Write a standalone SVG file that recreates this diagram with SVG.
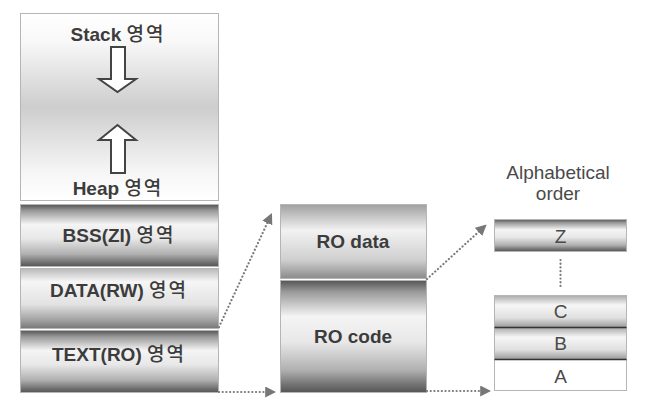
<svg xmlns="http://www.w3.org/2000/svg" width="657" height="412" viewBox="0 0 657 412">
<defs>
<linearGradient id="gStack" x1="0" y1="0" x2="0" y2="1">
<stop offset="0" stop-color="#ffffff"/><stop offset="0.15" stop-color="#f8f8f8"/><stop offset="0.5" stop-color="#cdcdcd"/><stop offset="0.85" stop-color="#f6f6f6"/><stop offset="1" stop-color="#ffffff"/>
</linearGradient>
<linearGradient id="gMetal" x1="0" y1="0" x2="0" y2="1">
<stop offset="0" stop-color="#555"/><stop offset="0.1" stop-color="#999"/><stop offset="0.32" stop-color="#f4f4f4"/><stop offset="0.55" stop-color="#e8e8e8"/><stop offset="0.8" stop-color="#b0b0b0"/><stop offset="0.94" stop-color="#6e6e6e"/><stop offset="1" stop-color="#555"/>
</linearGradient>
<linearGradient id="gLight" x1="0" y1="0" x2="0" y2="1">
<stop offset="0" stop-color="#b8b8b8"/><stop offset="0.22" stop-color="#f6f6f6"/><stop offset="0.6" stop-color="#e2e2e2"/><stop offset="0.88" stop-color="#9c9c9c"/><stop offset="1" stop-color="#777"/>
</linearGradient>
<linearGradient id="gRoData" x1="0" y1="0" x2="0" y2="1">
<stop offset="0" stop-color="#a0a0a0"/><stop offset="0.35" stop-color="#f2f2f2"/><stop offset="0.75" stop-color="#cfcfcf"/><stop offset="1" stop-color="#8a8a8a"/>
</linearGradient>
<linearGradient id="gSmall" x1="0" y1="0" x2="0" y2="1">
<stop offset="0" stop-color="#aaa"/><stop offset="0.3" stop-color="#f6f6f6"/><stop offset="0.7" stop-color="#e0e0e0"/><stop offset="1" stop-color="#999"/>
</linearGradient>
<marker id="ah" viewBox="0 0 10 10" refX="8" refY="5" markerWidth="5" markerHeight="5" orient="auto" markerUnits="strokeWidth">
<path d="M0,0 L10,5 L0,10 Z" fill="#777"/>
</marker>
<style>
.box{stroke:#b5b5b5;stroke-width:1}
.lbl{font-family:"Liberation Sans","Noto Sans CJK KR",sans-serif;font-size:19px;font-weight:bold;fill:#3c3c3c;text-anchor:middle}
.ko{font-family:"Noto Sans CJK KR",sans-serif;font-weight:500;font-size:19px;letter-spacing:2px}
.plain{font-family:"Liberation Sans",sans-serif;font-size:19px;fill:#4a4a4a;text-anchor:middle}
.dot{fill:none;stroke:#7a7a7a;stroke-width:2.2;stroke-dasharray:0.1 3.6;stroke-linecap:round}
.blk{fill:#fff;stroke:#444;stroke-width:2;stroke-linejoin:miter}
.sep{stroke:#333;stroke-width:1.6}
</style>
</defs>

<g id="stack-heap">
<rect class="box" x="20.5" y="13.5" width="198" height="187" fill="url(#gStack)"/>
<text class="lbl" x="118" y="41">Stack <tspan class="ko">영역</tspan></text>
<path class="blk" d="M111,47 H125 V79 H136 L117.5,92 L99,79 H111 Z"/>
<path class="blk" d="M111,173 H125 V140 H136 L117.5,125 L99,140 H111 Z"/>
<text class="lbl" x="118" y="195">Heap <tspan class="ko">영역</tspan></text>
</g>

<g id="bss">
<rect class="box" x="20.5" y="204.5" width="198" height="62" fill="url(#gMetal)"/>
<text class="lbl" x="119" y="242">BSS(ZI) <tspan class="ko">영역</tspan></text>
</g>

<g id="data">
<rect class="box" x="20.5" y="268.5" width="198" height="60" fill="url(#gLight)"/>
<text class="lbl" x="119" y="297">DATA(RW) <tspan class="ko">영역</tspan></text>
</g>

<g id="text">
<rect class="box" x="20.5" y="330.5" width="198" height="62" fill="url(#gMetal)"/>
<text class="lbl" x="119" y="361">TEXT(RO) <tspan class="ko">영역</tspan></text>
</g>

<g id="ro-data">
<rect class="box" x="280.5" y="204.5" width="146" height="74" fill="url(#gRoData)"/>
<text class="lbl" x="353" y="248">RO data</text>
</g>

<g id="ro-code">
<rect class="box" x="280.5" y="280.5" width="146" height="112" fill="url(#gMetal)"/>
<text class="lbl" x="353" y="343">RO code</text>
</g>

<g id="order-title">
<text class="plain" x="558" y="179">Alphabetical</text>
<text class="plain" x="558" y="200">order</text>
</g>

<g id="z">
<rect class="box" x="494.5" y="219.5" width="132" height="32" fill="url(#gMetal)"/>
<text class="plain" x="560.5" y="243">Z</text>
</g>

<g id="c">
<rect class="box" x="494.5" y="295.5" width="132" height="32" fill="url(#gSmall)"/>
<text class="plain" x="560.5" y="318">C</text>
</g>

<g id="b">
<rect class="box" x="494.5" y="327.5" width="132" height="32" fill="url(#gSmall)"/>
<text class="plain" x="560.5" y="350">B</text>
</g>

<g id="a">
<rect class="box" x="494.5" y="359.5" width="132" height="31" fill="#fff"/>
<text class="plain" x="560.5" y="383">A</text>
</g>

<g id="connectors">
<line class="sep" x1="494.5" y1="327.5" x2="626.5" y2="327.5"/>
<line class="sep" x1="494.5" y1="359.5" x2="626.5" y2="359.5"/>
<line class="dot" x1="560.5" y1="260" x2="560.5" y2="286"/>
<line class="dot" x1="219" y1="327" x2="271" y2="215" marker-end="url(#ah)"/>
<line class="dot" x1="219" y1="392" x2="274" y2="392" marker-end="url(#ah)"/>
<line class="dot" x1="427" y1="279" x2="485" y2="226" marker-end="url(#ah)"/>
<line class="dot" x1="427" y1="391" x2="489" y2="391" marker-end="url(#ah)"/>
</g>
</svg>
